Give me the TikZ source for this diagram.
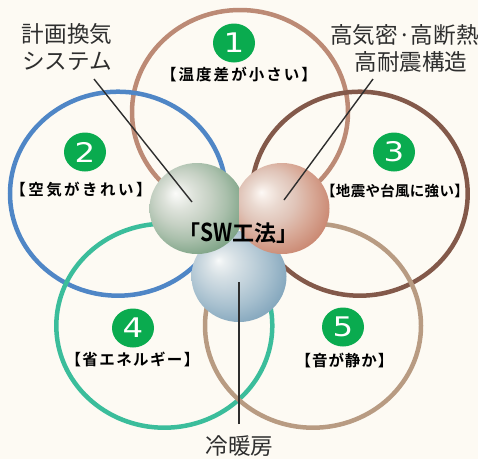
\documentclass[tikz,border=0pt]{standalone}
\usepackage{fontspec}
\usepackage{graphicx}
\setmainfont{Noto Sans CJK JP}
\newfontfamily\jpbold[BoldFont=*]{Noto Sans CJK JP Bold}
\newfontfamily\numfont{DejaVu Sans}
\usetikzlibrary{shapes.geometric}
\definecolor{bgc}{HTML}{FDFAF3}
\definecolor{cone}{HTML}{BC8A75}
\definecolor{ctwo}{HTML}{4F86C6}
\definecolor{cthree}{HTML}{83594A}
\definecolor{cfour}{HTML}{3BBD9B}
\definecolor{cfive}{HTML}{B89B82}
\definecolor{badgec}{HTML}{0AAB4F}
\definecolor{leader}{HTML}{2E2E2E}
\definecolor{ga}{HTML}{FBFBF9}\definecolor{gb}{HTML}{F0F2EE}\definecolor{gc}{HTML}{DDE2DA}\definecolor{gd}{HTML}{C6D1C4}\definecolor{ge}{HTML}{A9BFAB}\definecolor{gf}{HTML}{7FA487}
\definecolor{ra}{HTML}{FDF9F6}\definecolor{rb}{HTML}{F6ECE6}\definecolor{rc}{HTML}{EAD9D0}\definecolor{rd}{HTML}{E0C4B8}\definecolor{re}{HTML}{D8A997}\definecolor{rf}{HTML}{CB8A74}
\definecolor{ba}{HTML}{F8FAFA}\definecolor{bb}{HTML}{E9EEF0}\definecolor{bc}{HTML}{D6E0E5}\definecolor{bd}{HTML}{BFD0DA}\definecolor{be}{HTML}{A6BFCE}\definecolor{bf}{HTML}{86A8BE}
\pgfdeclareradialshading{ballgreen}{\pgfpoint{-11.5bp}{8.5bp}}{color(0bp)=(ga);color(3bp)=(gb);color(8bp)=(gc);color(15bp)=(gd);color(22bp)=(ge);color(30bp)=(gf);color(50bp)=(gf)}
\pgfdeclareradialshading{ballred}{\pgfpoint{-11bp}{9bp}}{color(0bp)=(ra);color(3bp)=(rb);color(8bp)=(rc);color(15bp)=(rd);color(22bp)=(re);color(30bp)=(rf);color(50bp)=(rf)}
\pgfdeclareradialshading{ballblue}{\pgfpoint{-11bp}{9bp}}{color(0bp)=(ba);color(3bp)=(bb);color(8bp)=(bc);color(15bp)=(bd);color(22bp)=(be);color(30bp)=(bf);color(50bp)=(bf)}
\tikzset{
  x=1pt,y=-1pt,
  ring/.style={ellipse,draw=#1,line width=4.5pt,fill=none,inner sep=0pt,minimum width=216pt,minimum height=204pt},
  badge/.style={ellipse,fill=badgec,inner sep=0pt,minimum width=42pt,minimum height=39pt,text=white,font=\numfont\fontsize{27}{27}\selectfont},
  tag/.style={inner sep=0pt,text=black,font=\jpbold\bfseries\fontsize{15.5}{15.5}\selectfont},
  tagsmall/.style={inner sep=0pt,text=black,font=\jpbold\bfseries\fontsize{14.5}{14.5}\selectfont},
  callout/.style={inner sep=0pt,text=leader,font=\fontsize{22.6}{27}\selectfont},
  sphere/.style={ellipse,inner sep=0pt,minimum width=95pt,minimum height=91pt},
  leaderline/.style={draw=leader,line width=1.4pt},
}
\newcommand{\trk}[1]{\addfontfeature{LetterSpace=#1}}
\newcommand{\widedigit}[1]{\scalebox{1.2}[1]{#1}}
\begin{document}
\begin{tikzpicture}
\useasboundingbox (0,0) rectangle (478,459);
\fill[bgc] (0,0) rectangle (478,459);
% rings
\node[ring=cone]   (r1) at (240,112) {};
\node[ring=ctwo]   (r2) at (118,193.7) {};
\node[ring=cthree] (r3) at (359.7,193.7) {};
\node[ring=cfour]  (r4) at (164.3,325.7) {};
\node[ring=cfive]  (r5) at (313,325.7) {};
% spheres
\node[sphere,shading=ballblue] (sb) at (239,276.5) {};
\begin{scope}
\clip (100,150) rectangle (239.5,300);
\node[sphere,shading=ballgreen] (sg) at (197,208.5) {};
\end{scope}
\begin{scope}
\clip (239.5,150) rectangle (350,300);
\node[sphere,shading=ballred] (sr) at (282,208.5) {};
\end{scope}
% badges
\node[badge] (b1) at (234,43) {\widedigit{1}};
\node[badge] (b2) at (85,152) {\widedigit{2}};
\node[badge] (b3) at (394,152) {\widedigit{3}};
\node[badge] (b4) at (133,328) {\widedigit{4}};
\node[badge] (b5) at (343,327) {\widedigit{5}};
% tags
\node[tag] (t1) at (239,75) {\trk{13}【温度差が小さい】};
\node[tag] (t2) at (81,190) {\trk{16}【空気がきれい】};
\node[tagsmall] (t3) at (395,191) {\trk{2}【地震や台風に強い】};
\node[tag] (t4) at (132.5,359) {\trk{9}【省エネルギー】};
\node[tag] (t5) at (344.5,360) {\trk{6}【音が静か】};
% callouts
\node[callout] (c1a) at (67,34) {計画換気};
\node[callout] (c1b) at (67,61) {システム};
\node[callout] (c2a) at (404.5,35) {高気密·高断熱};
\node[callout] (c2b) at (411,62) {高耐震構造};
\node[callout] (c3) at (239.5,446) {冷暖房};
% connectors
\coordinate (a1) at (94,79);
\coordinate (e1) at (192,202);
\coordinate (a2) at (373,79);
\coordinate (e2) at (284,200);
\coordinate (a3) at (239,424);
\coordinate (e3) at (239,282);
\draw[leaderline] (a1) -- (e1);
\draw[leaderline] (a2) -- (e2);
\draw[leaderline,line width=1.8pt] (a3) -- (e3);
% centre title
\node[inner sep=0pt,text=black,font=\jpbold\bfseries\fontsize{22}{22}\selectfont] (title) at (238.5,233) {「\scalebox{0.95}[1.12]{SW}工法」};
\end{tikzpicture}
\end{document}
